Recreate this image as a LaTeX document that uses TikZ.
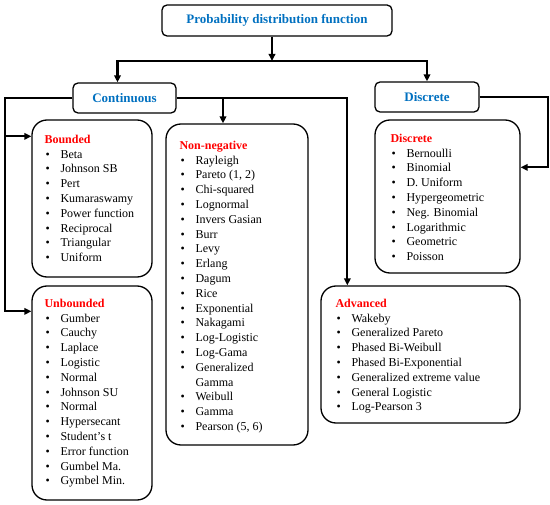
\documentclass[tikz,border=0pt]{standalone}
\usepackage{fontspec}
\setmainfont{Liberation Serif}
\usepackage{xcolor}
\definecolor{headBlue}{RGB}{0,112,192}
\definecolor{titleRed}{RGB}{255,0,0}
\usepackage{tikz}
\usetikzlibrary{arrows.meta}
\newcommand{\distitem}[1]{\\\hspace*{1pt}\makebox[15pt][l]{\textbullet}#1}
\newcommand{\disttitle}[1]{\textcolor{titleRed}{\textbf{#1}}}

\begin{document}
\begin{tikzpicture}[x=1pt, y=-1pt,
  head/.style={rectangle, draw, line width=1.3pt, rounded corners=5pt,
               text=headBlue, font=\fontsize{13}{15}\selectfont\bfseries},
  group/.style={rectangle, draw, line width=1.3pt, rounded corners=15pt},
  listtext/.style={anchor=north west, align=left, inner sep=0pt,
                   font=\fontsize{12}{14.8}\selectfont},
  arr/.style={-{Triangle[length=7pt,width=6.5pt]}, line width=2.2pt}
]
  \useasboundingbox (0,0) rectangle (550,505);

  % header boxes
  \node[head, minimum width=230pt, minimum height=31pt] (pdf) at (277,20.5)
       {Probability distribution function};
  \node[head, minimum width=103pt, minimum height=30pt] (cont) at (124.5,98)
       {Continuous};
  \node[head, minimum width=104pt, minimum height=30pt] (disc) at (427,97)
       {Discrete};

  % group boxes
  \node[group, minimum width=120pt, minimum height=157pt] (bnd) at (92,198.5) {};
  \node[group, minimum width=120pt, minimum height=214pt] (unb) at (92,393) {};
  \node[group, minimum width=142pt, minimum height=321pt] (nonneg) at (237,284.5) {};
  \node[group, minimum width=145pt, minimum height=153pt] (discbox) at (447.5,196.5) {};
  \node[group, minimum width=199pt, minimum height=137pt] (adv) at (420.5,354.5) {};

  % lists
  \node[listtext] (bndList) at ([xshift=13pt, yshift=-15.5pt]bnd.north west)
    {\disttitle{Bounded}\distitem{Beta}\distitem{Johnson SB}\distitem{Pert}
     \distitem{Kumaraswamy}\distitem{Power function}\distitem{Reciprocal}
     \distitem{Triangular}\distitem{Uniform}};
  \node[listtext] (unbList) at ([xshift=13pt, yshift=-13.5pt]unb.north west)
    {\disttitle{Unbounded}\distitem{Gumber}\distitem{Cauchy}\distitem{Laplace}
     \distitem{Logistic}\distitem{Normal}\distitem{Johnson SU}\distitem{Normal}
     \distitem{Hypersecant}\distitem{Student’s t}\distitem{Error function}
     \distitem{Gumbel Ma.}\distitem{Gymbel Min.}};
  \node[listtext] (nonnegList) at ([xshift=14pt, yshift=-17.5pt]nonneg.north west)
    {\disttitle{Non-negative}\distitem{Rayleigh}\distitem{Pareto (1, 2)}
     \distitem{Chi-squared}\distitem{Lognormal}\distitem{Invers Gasian}
     \distitem{Burr}\distitem{Levy}\distitem{Erlang}\distitem{Dagum}
     \distitem{Rice}\distitem{Exponential}\distitem{Nakagami}
     \distitem{Log-Logistic}\distitem{Log-Gama}\distitem{Generalized}
     \\\hspace*{16pt}Gamma\distitem{Weibull}\distitem{Gamma}
     \distitem{Pearson (5, 6)}};
  \node[listtext] (discList) at ([xshift=16pt, yshift=-14.5pt]discbox.north west)
    {\disttitle{Discrete}\distitem{Bernoulli}\distitem{Binomial}
     \distitem{D. Uniform}\distitem{Hypergeometric}\distitem{Neg. Binomial}
     \distitem{Logarithmic}\distitem{Geometric}\distitem{Poisson}};
  \node[listtext] (advList) at ([xshift=15pt, yshift=-13.5pt]adv.north west)
    {\disttitle{Advanced}\distitem{Wakeby}\distitem{Generalized Pareto}
     \distitem{Phased Bi-Weibull}\distitem{Phased Bi-Exponential}
     \distitem{Generalized extreme value}\distitem{General Logistic}
     \distitem{Log-Pearson 3}};

  % connector points
  \coordinate (split) at (272,61);
  \coordinate (contIn) at ([xshift=-7pt]cont.north);
  \coordinate (railL) at (5,98);
  \coordinate (railR) at (548,97);
  \coordinate (bndIn) at ([yshift=-17pt]bnd.north west);
  \coordinate (unbIn) at ([yshift=-26pt]unb.north west);
  \coordinate (nnIn) at ([xshift=-14pt]nonneg.north);
  \coordinate (advIn) at ([xshift=27pt]adv.north west);
  \coordinate (dbIn) at ([yshift=-48pt]discbox.north east);

  % connectors
  \draw[arr] (pdf.south -| split) -- (split);
  \draw[arr] (split) -| (contIn);
  \draw[arr] (split) -| (disc.north);
  \draw[arr] (cont.west) -- (railL) |- (unbIn);
  \draw[arr] (railL |- bndIn) -- (bndIn);
  \draw[arr] (cont.east) -| (advIn);
  \draw[arr] (cont.east -| nnIn) -- (nnIn);
  \draw[arr] (disc.east) -- (railR) |- (dbIn);
\end{tikzpicture}
\end{document}
